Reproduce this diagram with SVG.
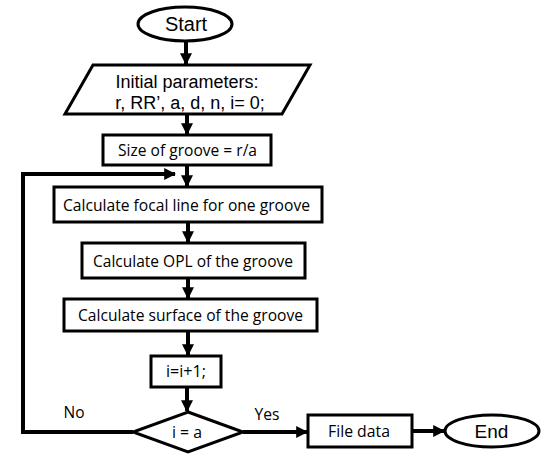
<svg xmlns="http://www.w3.org/2000/svg" width="550" height="457" viewBox="0 0 550 457">
<style>
.s{fill:#fff;stroke:#000;stroke-width:3}
.c{fill:none;stroke:#000;stroke-width:4}
.a{font-family:"Liberation Sans",Arial,sans-serif;font-size:18px;fill:#000;text-anchor:middle}
.b{font-family:"Open Sans","Noto Sans",sans-serif;font-size:17px;fill:#000;text-anchor:middle}
</style>
<defs>
<marker id="ah" viewBox="0 0 10 10" refX="9" refY="5" markerWidth="3" markerHeight="3" orient="auto" markerUnits="strokeWidth">
<path d="M0,0L10,5L0,10z" fill="#000"/>
</marker>
</defs>
<g id="connectors">
<line class="c" x1="186" y1="41" x2="186" y2="64" marker-end="url(#ah)"/>
<line class="c" x1="187" y1="114" x2="187" y2="134" marker-end="url(#ah)"/>
<line class="c" x1="187" y1="165" x2="187" y2="186" marker-end="url(#ah)"/>
<line class="c" x1="188" y1="222" x2="188" y2="242" marker-end="url(#ah)"/>
<line class="c" x1="188" y1="278" x2="188" y2="298" marker-end="url(#ah)"/>
<line class="c" x1="188" y1="331" x2="188" y2="355" marker-end="url(#ah)"/>
<line class="c" x1="187" y1="387" x2="187" y2="411" marker-end="url(#ah)"/>
<polyline class="c" points="133,432 23,432 23,174 175,174" marker-end="url(#ah)"/>
<line class="c" x1="243" y1="432" x2="307" y2="432" marker-end="url(#ah)"/>
<line class="c" x1="412" y1="431" x2="444" y2="431" marker-end="url(#ah)"/>
<text class="b" x="74" y="418" textLength="21" lengthAdjust="spacingAndGlyphs">No</text>
<text class="b" x="267" y="420" textLength="25" lengthAdjust="spacingAndGlyphs">Yes</text>
</g>
<g id="start">
<ellipse class="s" cx="185" cy="24" rx="47" ry="17"/>
<text class="a" x="186" y="31" style="font-size:20px">Start</text>
</g>
<g id="input">
<polygon class="s" points="93,65 310,65 282,114 65,114"/>
<text class="a" x="187" y="88">Initial parameters:</text>
<text class="a" x="190" y="109">r, RR’, a, d, n, i= 0;</text>
</g>
<g id="size">
<rect class="s" x="103" y="135" width="168" height="30"/>
<text class="b" x="187.5" y="156" textLength="139" lengthAdjust="spacingAndGlyphs">Size of groove = r/a</text>
</g>
<g id="focal">
<rect class="s" x="54" y="187" width="268" height="35"/>
<text class="b" x="186.5" y="211" textLength="247" lengthAdjust="spacingAndGlyphs">Calculate focal line for one groove</text>
</g>
<g id="opl">
<rect class="s" x="82" y="243" width="223" height="35"/>
<text class="b" x="193" y="267" textLength="200" lengthAdjust="spacingAndGlyphs">Calculate OPL of the groove</text>
</g>
<g id="surface">
<rect class="s" x="64" y="299" width="253" height="32"/>
<text class="b" x="190.5" y="321" textLength="225" lengthAdjust="spacingAndGlyphs">Calculate surface of the groove</text>
</g>
<g id="incr">
<rect class="s" x="151" y="356" width="70" height="31"/>
<text class="b" x="186" y="377" textLength="40" lengthAdjust="spacingAndGlyphs">i=i+1;</text>
</g>
<g id="decision">
<polygon class="s" points="188,412 243,432 188,452 133,432"/>
<text class="b" x="187" y="438" textLength="30" lengthAdjust="spacingAndGlyphs">i = a</text>
</g>
<g id="file">
<rect class="s" x="308" y="415" width="104" height="32"/>
<text class="b" x="359" y="437" textLength="62" lengthAdjust="spacingAndGlyphs">File data</text>
</g>
<g id="end">
<ellipse class="s" cx="492" cy="431" rx="47" ry="16"/>
<text class="a" x="491.5" y="438" style="font-size:19px">End</text>
</g>
</svg>
